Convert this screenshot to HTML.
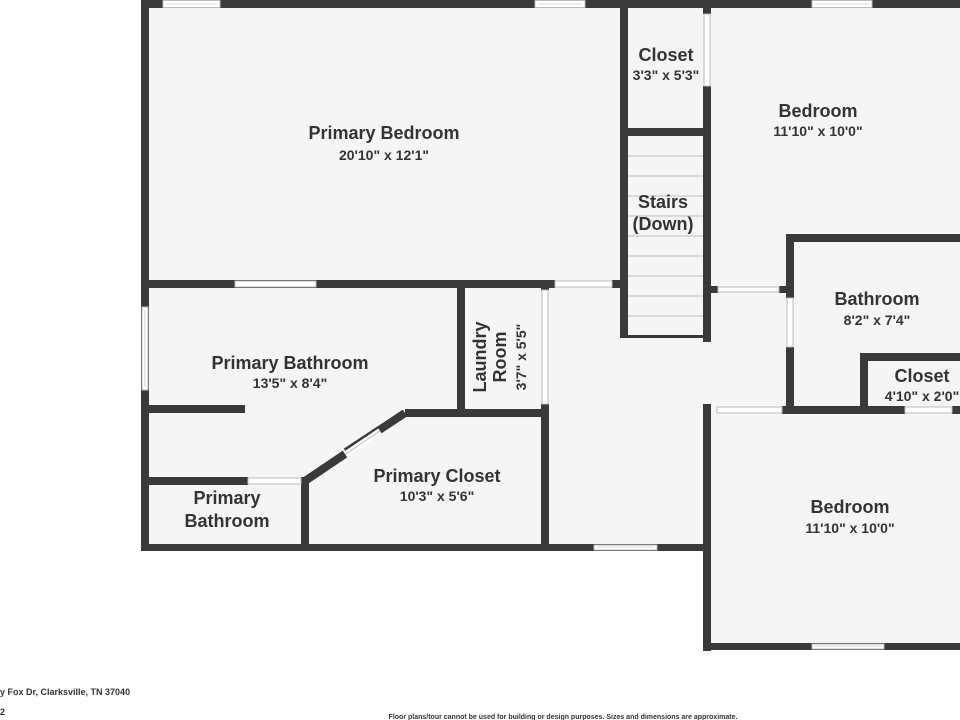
<!DOCTYPE html>
<html><head><style>
html,body{margin:0;padding:0;background:#fff;}
svg{display:block}
text{font-family:"Liberation Sans",sans-serif;fill:#333;text-anchor:middle}
.n{font-size:18px;font-weight:bold}
.d{font-size:14px;font-weight:bold}
</style></head><body>
<svg width="960" height="720" viewBox="0 0 960 720" xmlns="http://www.w3.org/2000/svg">
<rect width="960" height="720" fill="#fff"/>
<rect x="145" y="4" width="815" height="544" fill="#f5f5f5"/>
<rect x="707" y="404" width="253" height="242" fill="#f5f5f5"/>
<g fill="#3a3a3a">
<rect x="141" y="0" width="819" height="8"/>
<rect x="141" y="0" width="8" height="551"/>
<rect x="141" y="544" width="568" height="7"/>
<rect x="703" y="404" width="8" height="247"/>
<rect x="703" y="643" width="257" height="7"/>
<rect x="141" y="280" width="414" height="8"/>
<rect x="612" y="280" width="16" height="8"/>
<rect x="620" y="8" width="8" height="330"/>
<rect x="703" y="86" width="8" height="256"/>
<rect x="703" y="8" width="8" height="6"/>
<rect x="620" y="128" width="91" height="8"/>
<rect x="620" y="335" width="88" height="3"/>
<rect x="786" y="234" width="174" height="8"/>
<rect x="786" y="234" width="8" height="64"/>
<rect x="786" y="347" width="8" height="67"/>
<rect x="711" y="286" width="7" height="7"/>
<rect x="779" y="286" width="10" height="7"/>
<rect x="860" y="353" width="100" height="8"/>
<rect x="860" y="353" width="8" height="61"/>
<rect x="782" y="406" width="123" height="8"/>
<rect x="952" y="406" width="8" height="8"/>
<rect x="457" y="280" width="8" height="134"/>
<rect x="541" y="280" width="8" height="10"/>
<rect x="541" y="404" width="8" height="144"/>
<rect x="405" y="409" width="144" height="8"/>
<rect x="141" y="405" width="104" height="8"/>
<rect x="141" y="477" width="107" height="8"/>
<rect x="301" y="477" width="8" height="74"/>
</g>
<path d="M405 413 L346 452" stroke="#3a3a3a" stroke-width="8"/>
<path d="M343 456 L380 431" stroke="#fff" stroke-width="6"/>
<path d="M343 456 L380 431" stroke="#bbb" stroke-width="1"/>
<path d="M345 454 L305 481" stroke="#3a3a3a" stroke-width="8"/>
<g fill="#fff" stroke="#bbb" stroke-width="1">
<rect x="163" y="0.5" width="57" height="7"/>
<rect x="535" y="0.5" width="50" height="7"/>
<rect x="812" y="0.5" width="60" height="7"/>
<rect x="235" y="281" width="81" height="6"/>
<rect x="555" y="281" width="57" height="6"/>
<rect x="704" y="14" width="6" height="72"/>
<rect x="718" y="287" width="61" height="5"/>
<rect x="787" y="298" width="6" height="49"/>
<rect x="717" y="407" width="65" height="6"/>
<rect x="905" y="407" width="47" height="6"/>
<rect x="542" y="290" width="6" height="114"/>
<rect x="248" y="478" width="53" height="6"/>
<rect x="142" y="307" width="6" height="83"/>
<rect x="594" y="545" width="63" height="5"/>
<rect x="812" y="644" width="72" height="5"/>
</g>
<g stroke="#ccc" stroke-width="0.8">
<line x1="145" y1="310" x2="145" y2="387"/>
<line x1="166" y1="4" x2="217" y2="4"/>
<line x1="538" y1="4" x2="582" y2="4"/>
<line x1="815" y1="4" x2="869" y2="4"/>
<line x1="597" y1="547" x2="654" y2="547"/>
<line x1="815" y1="646" x2="881" y2="646"/>
</g>
<g stroke="#bdbdbd" stroke-width="1">
<line x1="628" y1="156" x2="703" y2="156"/>
<line x1="628" y1="176" x2="703" y2="176"/>
<line x1="628" y1="196" x2="703" y2="196"/>
<line x1="628" y1="216" x2="703" y2="216"/>
<line x1="628" y1="236" x2="703" y2="236"/>
<line x1="628" y1="256" x2="703" y2="256"/>
<line x1="628" y1="276" x2="703" y2="276"/>
<line x1="628" y1="296" x2="703" y2="296"/>
<line x1="628" y1="316" x2="703" y2="316"/>
</g>
<text class="n" x="384" y="139">Primary Bedroom</text>
<text class="d" x="384" y="160">20'10" x 12'1"</text>
<text class="n" x="666" y="61">Closet</text>
<text class="d" x="666" y="80">3'3" x 5'3"</text>
<text class="n" x="818" y="117">Bedroom</text>
<text class="d" x="818" y="136">11'10" x 10'0"</text>
<text class="n" x="663" y="208">Stairs</text>
<text class="n" x="663" y="230">(Down)</text>
<text class="n" x="877" y="305">Bathroom</text>
<text class="d" x="877" y="325">8'2" x 7'4"</text>
<text class="n" x="922" y="382">Closet</text>
<text class="d" x="922" y="401">4'10" x 2'0"</text>
<text class="n" x="850" y="513">Bedroom</text>
<text class="d" x="850" y="533">11'10" x 10'0"</text>
<text class="n" x="290" y="369">Primary Bathroom</text>
<text class="d" x="290" y="388">13'5" x 8'4"</text>
<text class="n" x="437" y="482">Primary Closet</text>
<text class="d" x="437" y="501">10'3" x 5'6"</text>
<text class="n" x="227" y="504">Primary</text>
<text class="n" x="227" y="527">Bathroom</text>
<g transform="translate(500,357) rotate(-90)">
<text class="n" x="0" y="-14">Laundry</text>
<text class="n" x="0" y="6">Room</text>
<text class="d" x="0" y="26">3'7" x 5'5"</text>
</g>
<text x="0" y="695" style="font-size:9px;font-weight:bold;text-anchor:start">y Fox Dr, Clarksville, TN 37040</text>
<text x="0" y="715" style="font-size:9px;font-weight:bold;text-anchor:start">2</text>
<text x="563" y="719" style="font-size:7px;font-weight:bold">Floor plans/tour cannot be used for building or design purposes. Sizes and dimensions are approximate.</text>
</svg>
</body></html>
